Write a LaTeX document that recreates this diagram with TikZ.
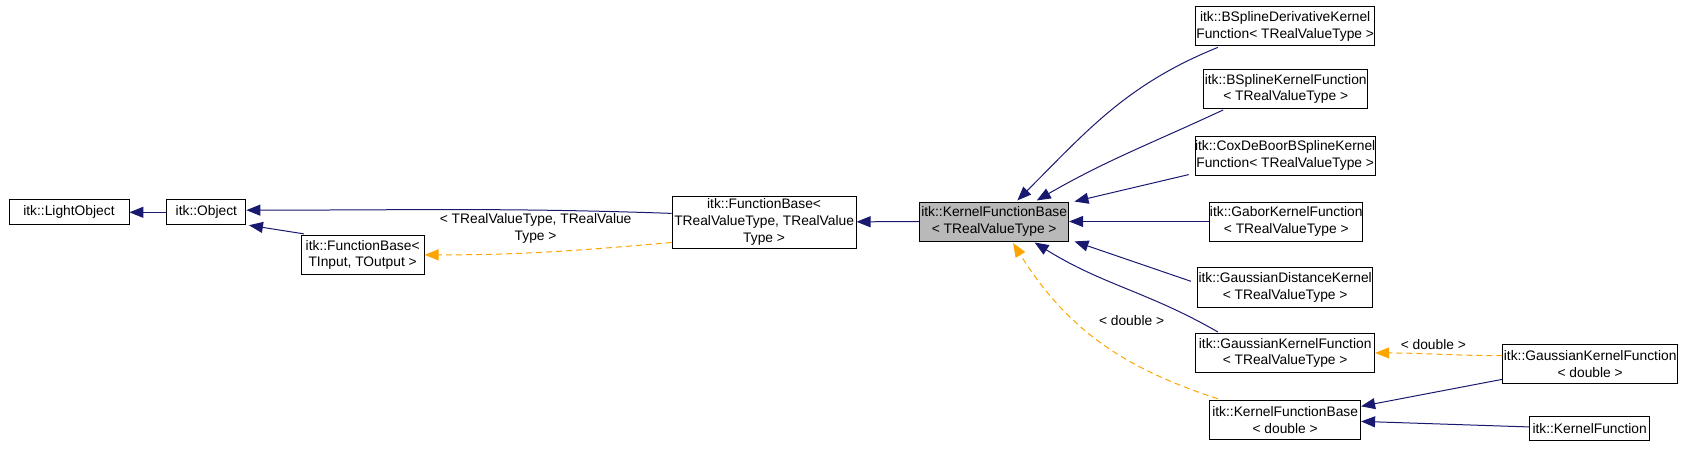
\documentclass[tikz,border=0pt]{standalone}
\usepackage{fontspec}
\setmainfont{Liberation Sans}
\usetikzlibrary{arrows.meta}
\definecolor{navy}{RGB}{25,25,112}
\definecolor{orng}{RGB}{255,165,0}
\begin{document}
\begin{tikzpicture}[x=1.078pt,y=-1.078pt,
  box/.style={draw=black,line width=0.9pt,fill=white,align=center,inner sep=0pt,font=\fontsize{13.8}{16.8}\selectfont},
  inh/.style={draw=navy,line width=1pt,-{Triangle[length=14pt,width=11pt]}},
  tpl/.style={draw=orng,line width=1pt,dashed,dash pattern=on 6pt off 4pt,-{Triangle[length=14pt,width=11pt]}},
  lbl/.style={font=\fontsize{13.8}{16.8}\selectfont,align=center}]
\useasboundingbox (0,0) rectangle (1570,416.5);
\node[box,minimum width=120,minimum height=25] (lo) at (64,197) {itk::LightObject};
\node[box,minimum width=79,minimum height=25] (ob) at (191.5,197) {itk::Object};
\node[box,minimum width=123,minimum height=39] (fbi) at (336.5,236.5) {itk::FunctionBase<\\TInput, TOutput >};
\node[box,minimum width=184,minimum height=52] (fbr) at (709,206) {itk::FunctionBase<\\TRealValueType, TRealValue\\Type >};
\node[box,fill=gray!55,minimum width=149,minimum height=39] (kfb) at (922.5,205.5) {itk::KernelFunctionBase\\< TRealValueType >};
\node[box,minimum width=179,minimum height=39] (bsd) at (1192.5,24.5) {itk::BSplineDerivativeKernel\\Function< TRealValueType >};
\node[box,minimum width=164,minimum height=39] (bsk) at (1193,82.5) {itk::BSplineKernelFunction\\< TRealValueType >};
\node[box,minimum width=179,minimum height=39] (cox) at (1192.5,144.5) {itk::CoxDeBoorBSplineKernel\\Function< TRealValueType >};
\node[box,minimum width=153,minimum height=39] (gab) at (1193.5,205.5) {itk::GaborKernelFunction\\< TRealValueType >};
\node[box,minimum width=175,minimum height=40] (gdk) at (1192.5,267) {itk::GaussianDistanceKernel\\< TRealValueType >};
\node[box,minimum width=179,minimum height=39] (gkf) at (1192.5,327.5) {itk::GaussianKernelFunction\\< TRealValueType >};
\node[box,minimum width=151,minimum height=39] (kfd) at (1192.5,389.5) {itk::KernelFunctionBase\\< double >};
\node[box,minimum width=175,minimum height=39] (gkd) at (1475.5,337.5) {itk::GaussianKernelFunction\\< double >};
\node[box,minimum width=120,minimum height=24] (kf) at (1475,398) {itk::KernelFunction};

\coordinate (kt1) at (944,186);
\coordinate (kt2) at (962,186);
\coordinate (kt3) at (997,187);
\coordinate (kb1) at (997,224);
\coordinate (kb2) at (960,225);
\coordinate (kb3) at (940,225.5);
\coordinate (bsdS) at (1130,44);
\coordinate (bskS) at (1135,102);
\coordinate (coxS) at (1103,162);
\coordinate (gdkS) at (1105,261);
\coordinate (gkfN) at (1130,308);
\coordinate (kfdN) at (1130,370);
\coordinate (fbiN) at (282,217);
\coordinate (obSE) at (231,209);

\draw[inh] (ob) -- (lo);
\draw[inh] (fbiN) -- (obSE);
\draw[inh] (fbr.west |- 0,198) to[out=178,in=0] (ob.east |- 0,195);
\draw[tpl] (fbr.west |- 0,225) to[out=185,in=0] (fbi.east);
\node[lbl] at (497,212) {< TRealValueType, TRealValue\\Type >};
\draw[inh] (kfb) -- (fbr);
\draw[inh] (bsdS) to[out=-158,in=45] (kt1);
\draw[inh] (bskS) to[out=-155,in=30] (kt2);
\draw[inh] (coxS) -- (kt3);
\draw[inh] (gab) -- (kfb);
\draw[inh] (gdkS) -- (kb1);
\draw[inh] (gkfN) to[out=150,in=-32] (kb2);
\draw[tpl] (kfdN) to[out=162,in=-58] (kb3);
\node[lbl] at (1050,297) {< double >};
\draw[tpl] (gkd.west |- 0,330) to[out=180,in=0] (gkf.east);
\node[lbl] at (1330,320) {< double >};
\draw[inh] (gkd.west |- 0,352) -- (kfd.east |- 0,377);
\draw[inh] (kf) -- (kfd.east |- 0,391);
\end{tikzpicture}
\end{document}
